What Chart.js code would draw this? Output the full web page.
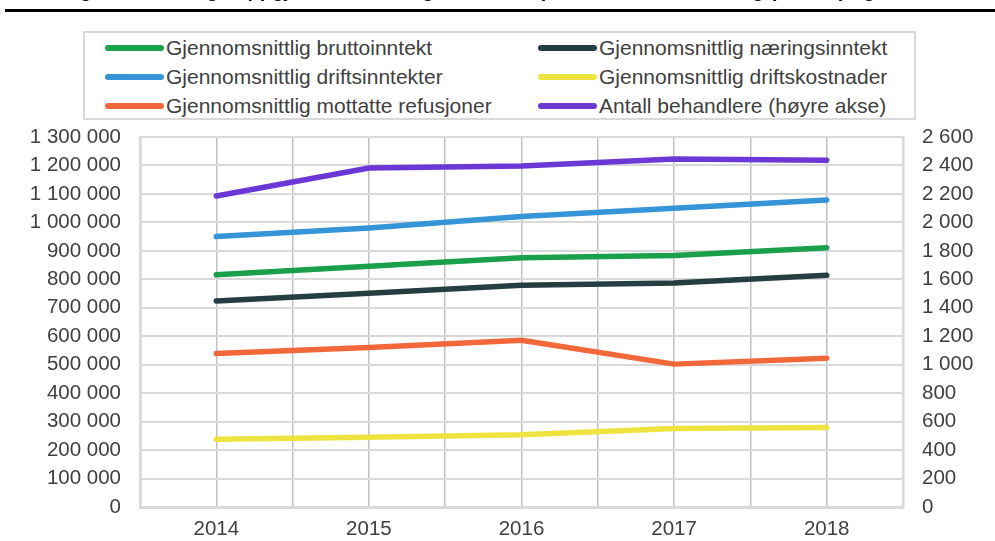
<!DOCTYPE html>
<html>
<head>
<meta charset="utf-8">
<script src="https://cdn.jsdelivr.net/npm/chart.js@4/dist/chart.umd.min.js"></script>
<style>
    body { margin: 0; background: #fff; font-family: "Liberation Sans", Arial, sans-serif; }
    #wrap { position: relative; width: 995px; height: 541px; overflow: hidden; }
    #title { position: absolute; left: 0; top: -21px; width: 995px; text-align: center; font-weight: bold; font-size: 20px; color: #000; white-space: nowrap; }
    #rule { position: absolute; left: 5px; top: 9px; width: 990px; height: 3px; background: #000; }
    #legend { position: absolute; left: 83px; top: 31px; width: 829px; height: 85px; border: 2px solid #d9d9d9; background: #fff; }
    .item { position: absolute; height: 29px; line-height: 29px; font-size: 21px; color: #404040; white-space: nowrap; }
    .item span.line { position: absolute; left: 0; top: 12px; width: 59px; height: 6px; border-radius: 3px; }
    .item span.txt { position: absolute; left: 61px; top: 0; }
    canvas { position: absolute; left: 0; top: 0; }
</style>
</head>
<body>
<div id="wrap">
    <canvas id="lineChart" width="995" height="541"></canvas>
    <div id="title">Figur 3 Utvikling i oppgjør, inntekter og kostnader per behandler i ordning (kroner) og antall</div>
    <div id="rule"></div>
    <div id="legend"></div>
</div>
<script>
const years = ['2014', '2015', '2016', '2017', '2018'];

const brutto = [816000, 846000, 876000, 884000, 911000];
const naering = [724000, 751000, 779000, 787000, 814000];
const driftsinntekter = [950000, 980000, 1021000, 1050000, 1079000];
const driftskostnader = [238000, 245000, 254000, 276000, 279000];
const refusjoner = [539000, 560000, 586000, 502000, 523000];
const behandlere = [2185, 2382, 2396, 2445, 2436];

const leftTicks = [0, 100000, 200000, 300000, 400000, 500000, 600000, 700000, 800000, 900000, 1000000, 1100000, 1200000, 1300000];
const rightTicks = [0, 200, 400, 600, 800, 1000, 1200, 1400, 1600, 1800, 2000, 2200, 2400, 2600];

function spaced(v) {
    return String(v).replace(/\B(?=(\d{3})+(?!\d))/g, ' ');
}

function series(label, data, color, axis) {
    return {
        label: label,
        data: data,
        borderColor: color,
        backgroundColor: color,
        borderWidth: 5.5,
        borderCapStyle: 'round',
        borderJoinStyle: 'round',
        pointRadius: 0,
        tension: 0,
        yAxisID: axis
    };
}

const tickFont = { family: '"Liberation Sans", Arial, sans-serif', size: 20.5 };

const chart = new Chart(document.getElementById('lineChart').getContext('2d'), {
    type: 'line',
    data: {
        labels: years,
        datasets: [
            series('Gjennomsnittlig bruttoinntekt', brutto, '#1a9f4b', 'y'),
            series('Gjennomsnittlig næringsinntekt', naering, '#243e42', 'y'),
            series('Gjennomsnittlig driftsinntekter', driftsinntekter, '#3595d6', 'y'),
            series('Gjennomsnittlig driftskostnader', driftskostnader, '#efe43f', 'y'),
            series('Gjennomsnittlig mottatte refusjoner', refusjoner, '#f3683a', 'y'),
            series('Antall behandlere (høyre akse)', behandlere, '#6b38d6', 'y1')
        ]
    },
    options: {
        responsive: false,
        animation: false,
        layout: { padding: { top: 137, left: 0, right: 0, bottom: 0 } },
        plugins: {
            legend: { display: false },
            tooltip: { enabled: false }
        },
        scales: {
            x: {
                offset: true,
                grid: {
                    offset: true,
                    drawTicks: false,
                    color: (ctx) => (ctx.index === 0 || ctx.index === years.length) ? '#d9d9d9' : '#c0c0c0',
                    lineWidth: (ctx) => (ctx.index === 0 || ctx.index === years.length) ? 2.5 : 1.5
                },
                border: { display: true, color: '#d9d9d9', width: 3 },
                ticks: { color: '#404040', font: tickFont, padding: 10, maxRotation: 0 },
                afterFit: (scale) => { scale.height = 34; }
            },
            x2: {
                type: 'category',
                labels: years,
                position: 'bottom',
                offset: true,
                grid: { offset: false, drawTicks: false, color: '#c0c0c0', lineWidth: 1.5 },
                border: { display: false },
                ticks: { display: false },
                afterFit: (scale) => { scale.height = 0; }
            },
            y: {
                position: 'left',
                min: 0,
                max: 1300000,
                afterBuildTicks: (scale) => { scale.ticks = leftTicks.map(v => ({ value: v })); },
                grid: { drawTicks: false, color: '#d9d9d9', lineWidth: 2 },
                border: { display: true, color: '#d9d9d9', width: 2.5 },
                ticks: { color: '#404040', font: tickFont, padding: 19, callback: (v) => spaced(v) },
                afterFit: (scale) => { scale.width = 140; }
            },
            y1: {
                position: 'right',
                min: 0,
                max: 2600,
                afterBuildTicks: (scale) => { scale.ticks = rightTicks.map(v => ({ value: v })); },
                grid: { drawOnChartArea: false, drawTicks: false },
                border: { display: true, color: '#d9d9d9', width: 2.5 },
                ticks: { color: '#404040', font: tickFont, padding: 19, callback: (v) => spaced(v) },
                afterFit: (scale) => { scale.width = 92; }
            }
        }
    }
});

// legend in two columns, same order as the datasets
const legendBox = document.getElementById('legend');
chart.data.datasets.forEach((ds, i) => {
    const item = document.createElement('div');
    item.className = 'item';
    item.style.left = (i % 2 === 0 ? 20 : 453) + 'px';
    item.style.top = (Math.floor(i / 2) * 29) + 'px';
    item.innerHTML = '<span class="line" style="background:' + ds.borderColor + '"></span><span class="txt"></span>';
    item.querySelector('.txt').textContent = ds.label;
    legendBox.appendChild(item);
});
</script>
</body>
</html>
